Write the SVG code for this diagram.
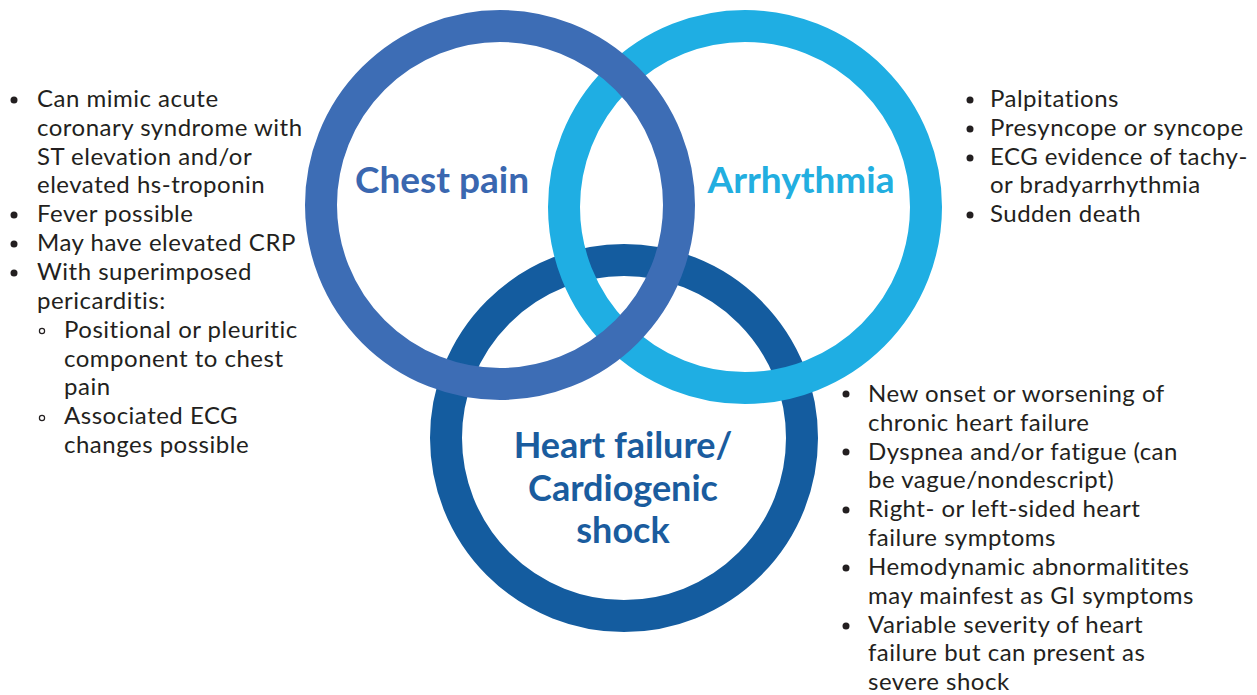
<svg xmlns="http://www.w3.org/2000/svg" width="1257" height="695" viewBox="0 0 1257 695">
<style>
.ring{fill:none;stroke-width:32}
.body{font-family:Lato,"Open Sans","Liberation Sans",sans-serif;font-size:24px;letter-spacing:0.5px;fill:#231f20}
.head{font-family:Lato,"Open Sans","Liberation Sans",sans-serif;font-weight:bold;font-size:37px;text-anchor:middle}
.hf{font-size:36px}
.dot{fill:#231f20}
.odot{fill:none;stroke:#231f20;stroke-width:1.2}
</style>
<rect width="1257" height="695" fill="#ffffff"/>
<g id="hf">
<circle class="ring" cx="624" cy="438" r="178" stroke="#145c9f"/>
<text class="head hf" fill="#1a5c9e" x="623" y="458">Heart failure/</text>
<text class="head hf" fill="#1a5c9e" x="623" y="501">Cardiogenic</text>
<text class="head hf" fill="#1a5c9e" x="623" y="543">shock</text>
</g>
<g id="arrhythmia">
<circle class="ring" cx="745" cy="207" r="181" stroke="#1faee3"/>
<text class="head" fill="#22aee0" x="801" y="193">Arrhythmia</text>
</g>
<g id="chest-pain">
<circle class="ring" cx="500" cy="205" r="179" stroke="#3d6db5"/>
<text class="head" fill="#3a67b0" x="442" y="193">Chest pain</text>
</g>
<g id="chest-pain-list">
<circle class="dot" cx="14" cy="100" r="3.5"/>
<circle class="dot" cx="14" cy="215" r="3.5"/>
<circle class="dot" cx="14" cy="244" r="3.5"/>
<circle class="dot" cx="14" cy="273" r="3.5"/>
<circle class="odot" cx="42" cy="331" r="2.6"/>
<circle class="odot" cx="42" cy="418" r="2.6"/>
<text class="body" x="37" y="107">Can mimic acute</text>
<text class="body" x="37" y="136">coronary syndrome with</text>
<text class="body" x="37" y="165">ST elevation and/or</text>
<text class="body" x="37" y="193">elevated hs-troponin</text>
<text class="body" x="37" y="222">Fever possible</text>
<text class="body" x="37" y="251">May have elevated CRP</text>
<text class="body" x="37" y="280">With superimposed</text>
<text class="body" x="37" y="309">pericarditis:</text>
<text class="body" x="64" y="338">Positional or pleuritic</text>
<text class="body" x="64" y="367">component to chest</text>
<text class="body" x="64" y="395">pain</text>
<text class="body" x="64" y="424">Associated ECG</text>
<text class="body" x="64" y="453">changes possible</text>
</g>
<g id="arrhythmia-list">
<circle class="dot" cx="970" cy="100" r="3.5"/>
<circle class="dot" cx="970" cy="129" r="3.5"/>
<circle class="dot" cx="970" cy="158" r="3.5"/>
<circle class="dot" cx="970" cy="215" r="3.5"/>
<text class="body" x="990" y="107">Palpitations</text>
<text class="body" x="990" y="136">Presyncope or syncope</text>
<text class="body" x="990" y="165">ECG evidence of tachy-</text>
<text class="body" x="990" y="193">or bradyarrhythmia</text>
<text class="body" x="990" y="222">Sudden death</text>
</g>
<g id="hf-list">
<circle class="dot" cx="846" cy="394" r="3.5"/>
<circle class="dot" cx="846" cy="452" r="3.5"/>
<circle class="dot" cx="846" cy="510" r="3.5"/>
<circle class="dot" cx="846" cy="568" r="3.5"/>
<circle class="dot" cx="846" cy="626" r="3.5"/>
<text class="body" x="868" y="402">New onset or worsening of</text>
<text class="body" x="868" y="431">chronic heart failure</text>
<text class="body" x="868" y="460">Dyspnea and/or fatigue (can</text>
<text class="body" x="868" y="488">be vague/nondescript)</text>
<text class="body" x="868" y="517">Right- or left-sided heart</text>
<text class="body" x="868" y="546">failure symptoms</text>
<text class="body" x="868" y="575">Hemodynamic abnormalitites</text>
<text class="body" x="868" y="604">may mainfest as GI symptoms</text>
<text class="body" x="868" y="633">Variable severity of heart</text>
<text class="body" x="868" y="661">failure but can present as</text>
<text class="body" x="868" y="690">severe shock</text>
</g>
</svg>
